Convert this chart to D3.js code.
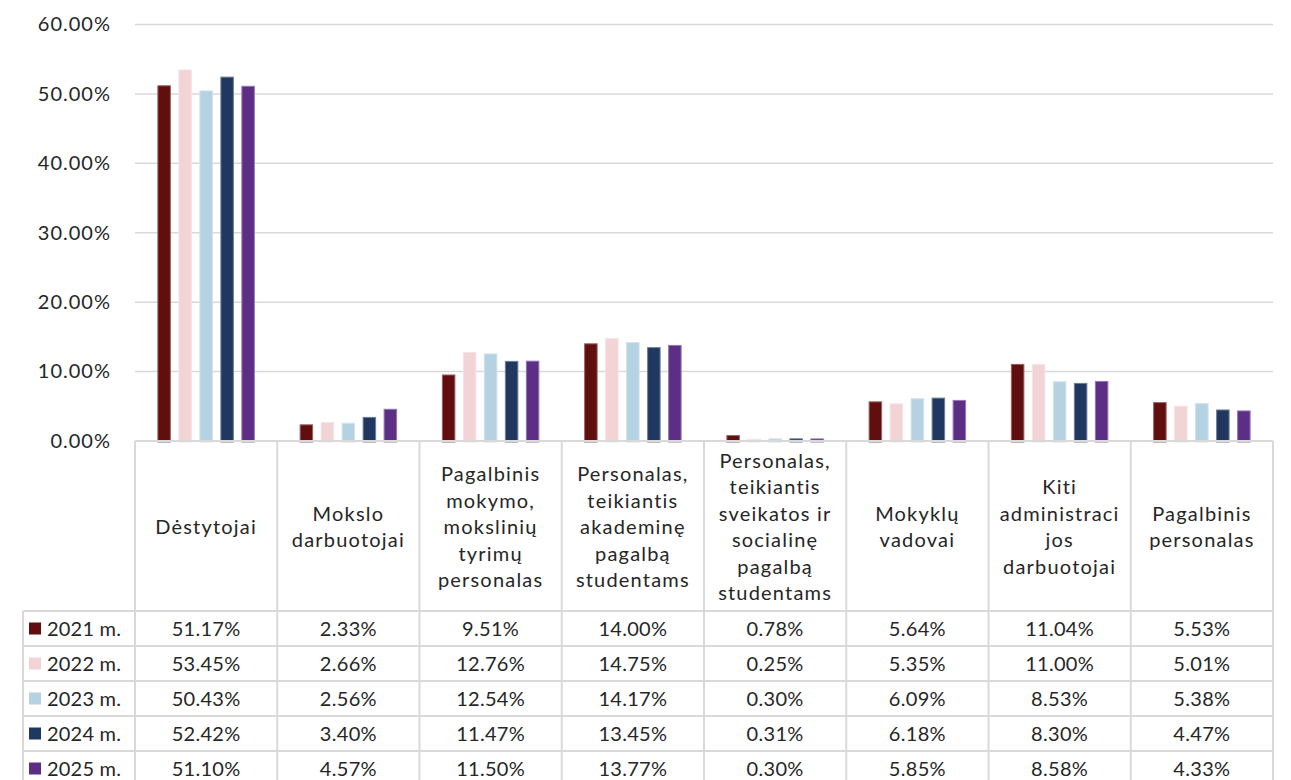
<!DOCTYPE html>
<html>
<head>
<meta charset="utf-8">
<script src="https://cdn.jsdelivr.net/npm/d3@7"></script>
<style>
  html, body { margin: 0; padding: 0; background: #fff; }
  svg { display: block; font-family: Lato, "Open Sans", sans-serif; }
</style>
</head>
<body>
<svg id="chart" width="1291" height="780"></svg>
<script>
// ---- data ----
const categories = [
  "Dėstytojai",
  "Mokslo\ndarbuotojai",
  "Pagalbinis\nmokymo,\nmokslinių\ntyrimų\npersonalas",
  "Personalas,\nteikiantis\nakademinę\npagalbą\nstudentams",
  "Personalas,\nteikiantis\nsveikatos ir\nsocialinę\npagalbą\nstudentams",
  "Mokyklų\nvadovai",
  "Kiti\nadministraci\njos\ndarbuotojai",
  "Pagalbinis\npersonalas"
];
const seriesNames = ["2021 m.", "2022 m.", "2023 m.", "2024 m.", "2025 m."];
const seriesColors = ["#600e0e", "#f2d3d6", "#b5d2e3", "#20385f", "#5c2e85"];
const v2021 = [51.17, 2.33, 9.51, 14.00, 0.78, 5.64, 11.04, 5.53];
const v2022 = [53.45, 2.66, 12.76, 14.75, 0.25, 5.35, 11.00, 5.01];
const v2023 = [50.43, 2.56, 12.54, 14.17, 0.30, 6.09, 8.53, 5.38];
const v2024 = [52.42, 3.40, 11.47, 13.45, 0.31, 6.18, 8.30, 4.47];
const v2025 = [51.10, 4.57, 11.50, 13.77, 0.30, 5.85, 8.58, 4.33];
const yTicks = [0, 10, 20, 30, 40, 50, 60];

const seriesValues = [v2021, v2022, v2023, v2024, v2025];

// ---- layout ----
const svg = d3.select("#chart");
const plotLeft = 135, plotRight = 1273, plotTop = 24.5, plotBase = 441;
const headerBottom = 611, rowH = 35, tableLeft = 23;
const textColor = "#262626";
const lineColor = "#d9d9d9";

const x0 = d3.scaleBand().domain(categories.map((d, i) => i)).range([plotLeft, plotRight]).padding(0);
const x1 = d3.scaleBand().domain(seriesNames).range([0, x0.bandwidth()])
  .paddingInner(0.405).paddingOuter(1.09);
const y = d3.scaleLinear().domain([0, 60]).range([plotBase, plotTop]);
const fmt = d3.format(".2f");

// gridlines
svg.append("g").selectAll("line").data(yTicks.filter(d => d > 0)).join("line")
  .attr("x1", plotLeft).attr("x2", plotRight)
  .attr("y1", d => y(d)).attr("y2", d => y(d))
  .attr("stroke", lineColor).attr("stroke-width", 1.5);

// y axis labels
const yAxis = svg.append("g").attr("transform", `translate(${plotLeft},0)`)
  .call(d3.axisLeft(y).tickValues(yTicks).tickFormat(d => fmt(d) + "%").tickSize(0).tickPadding(24));
yAxis.select(".domain").remove();
yAxis.selectAll("text")
  .attr("font-family", "Lato, sans-serif")
  .attr("font-size", 20).attr("fill", textColor)
  .attr("letter-spacing", 1);

// bars
const groups = svg.append("g").selectAll("g").data(categories.map((c, i) => i)).join("g")
  .attr("transform", i => `translate(${x0(i)},0)`);
groups.selectAll("rect")
  .data(i => seriesNames.map((s, k) => ({ s, k, v: seriesValues[k][i] })))
  .join("rect")
  .attr("x", d => x1(d.s))
  .attr("width", x1.bandwidth())
  .attr("y", d => y(d.v))
  .attr("height", d => plotBase - y(d.v) + 1)
  .attr("fill", d => seriesColors[d.k])
  .attr("stroke", d => d3.interpolateRgb(seriesColors[d.k], "#ffffff")(0.35))
  .attr("stroke-width", 1);

// table lines
const tbl = svg.append("g").attr("stroke", lineColor).attr("stroke-width", 2).attr("fill", "none");
const nRows = seriesNames.length;
const tableBottom = headerBottom + rowH * nRows;
tbl.append("line").attr("x1", plotLeft).attr("x2", plotRight).attr("y1", plotBase).attr("y2", plotBase);
for (let r = 0; r <= nRows; r++) {
  const yy = headerBottom + r * rowH;
  tbl.append("line").attr("x1", tableLeft).attr("x2", plotRight).attr("y1", yy).attr("y2", yy);
}
tbl.append("line").attr("x1", tableLeft).attr("x2", tableLeft).attr("y1", headerBottom).attr("y2", tableBottom);
const bounds = categories.map((c, i) => x0(i)).concat([plotRight]);
bounds.forEach(bx => {
  tbl.append("line").attr("x1", bx).attr("x2", bx).attr("y1", plotBase).attr("y2", tableBottom);
});

// header labels
const lh = 26.5;
const headerMid = (plotBase + headerBottom) / 2 + 1;
const hdr = svg.append("g");
categories.forEach((c, i) => {
  const lines = c.split("\n");
  const t = hdr.append("text")
    .attr("text-anchor", "middle")
    .attr("font-size", 20).attr("fill", textColor)
    .attr("letter-spacing", 1.2);
  const cx = x0(i) + x0.bandwidth() / 2;
  const startY = headerMid - (lines.length - 1) * lh / 2 + 7;
  lines.forEach((ln, j) => {
    t.append("tspan").attr("x", cx).attr("y", startY + j * lh).text(ln);
  });
});

// rows
const rows = svg.append("g");
seriesNames.forEach((s, k) => {
  const cy = headerBottom + k * rowH + rowH / 2 + 7;
  rows.append("rect")
    .attr("x", 29).attr("y", cy - 7 - 6).attr("width", 12).attr("height", 12)
    .attr("fill", seriesColors[k]);
  rows.append("text")
    .attr("x", 47).attr("y", cy)
    .attr("font-size", 20).attr("fill", textColor).attr("letter-spacing", 0.2)
    .text(s);
  categories.forEach((c, i) => {
    rows.append("text")
      .attr("x", x0(i) + x0.bandwidth() / 2).attr("y", cy)
      .attr("text-anchor", "middle")
      .attr("font-size", 20).attr("fill", textColor).attr("letter-spacing", 0.3)
      .text(fmt(seriesValues[k][i]) + "%");
  });
});
</script>
</body>
</html>
